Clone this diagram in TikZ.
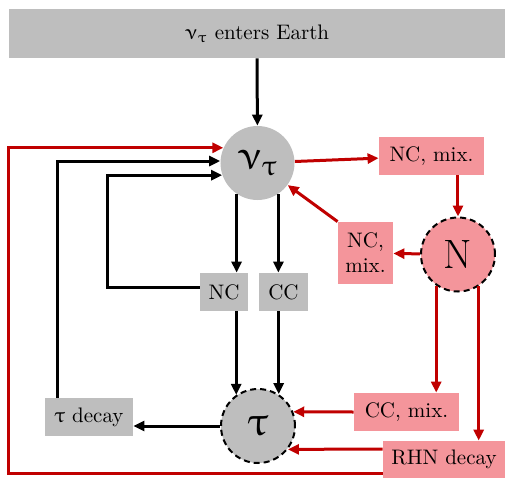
\documentclass[tikz,border=0pt]{standalone}
\usepackage{amsmath}
\usepackage{upgreek}
\usepackage{tikz}
\usetikzlibrary{arrows.meta,positioning,calc}
\usepackage{xcolor}
\definecolor{boxgray}{HTML}{BEBEBE}
\definecolor{mixpink}{HTML}{F4959B}
\definecolor{flowred}{HTML}{C00000}

\begin{document}
\begin{tikzpicture}[
  x=0.5pt,y=-0.5pt,
  font=\fontsize{10.5}{12.5}\selectfont,
  gbox/.style={fill=boxgray,inner sep=0pt,minimum height=19pt,align=center},
  pbox/.style={fill=mixpink,inner sep=0pt,minimum height=19pt,align=center},
  particle/.style={circle,fill=boxgray,minimum size=37pt,inner sep=0pt,font=\fontsize{20.5}{24}\selectfont},
  unstable/.style={particle,draw=black,line width=1pt,dash pattern=on 3pt off 2pt},
  arrow/.style={-{Triangle[length=5.5pt,width=5pt]},line width=1.5pt,black},
  redarrow/.style={arrow,flowred}
]
\useasboundingbox (0,0) rectangle (505,478);
% nodes
\node[gbox,minimum width=248pt,minimum height=24.5pt] (earth) at (257,33.5) {$\upnu_\uptau$ enters Earth};
\node[particle] (nutau) at (257.5,163) {$\upnu_{\uptau}$};
\node[gbox,minimum width=24pt] (nc) at (224,292) {NC};
\node[gbox,minimum width=24.5pt] (cc) at (283.5,292) {CC};
\node[unstable] (tau) at (258,426) {$\uptau$};
\node[gbox,minimum width=44pt] (taudec) at (89,417) {$\uptau$ decay};
\node[pbox,minimum width=52.5pt] (ncmixa) at (431.5,156) {NC, mix.};
\node[pbox,minimum width=27.5pt,minimum height=31pt] (ncmixb) at (365.5,253) {NC,\\mix.};
\node[unstable,fill=mixpink] (heavy) at (458,254.5) {N};
\node[pbox,minimum width=52.5pt] (ccmix) at (406.5,412) {CC, mix.};
\node[pbox,minimum width=61pt,minimum height=18.5pt] (rhn) at (444,459.5) {RHN decay};
% standard model
\draw[arrow] (earth) -- (nutau);
\draw[arrow] (nutau.236) -- (nutau.236 |- nc.north);
\draw[arrow] (nutau.304) -- (nutau.304 |- cc.north);
\draw[arrow] (nc.south -| tau.125) -- (tau.125);
\draw[arrow] (cc.south -| tau.57) -- (tau.57);
\draw[arrow] ([yshift=2.5pt]nc.west) -- ++(-92,0) |- (nutau.199);
\draw[arrow] ([xshift=-15.5pt]taudec.north) |- (nutau.177);
\draw[arrow] (tau.west) -- (tau.west -| taudec.east);
% mixing with N
\draw[redarrow] (nutau) -- (ncmixa);
\draw[redarrow] (ncmixa.south -| heavy.north) -- (heavy.north);
\draw[redarrow] (heavy) -- (ncmixb);
\draw[redarrow] (ncmixb.north west) -- (nutau);
\draw[redarrow] (heavy.235) -- (heavy.235 |- ccmix.north);
\draw[redarrow] (heavy.303) -- (heavy.303 |- rhn.north);
\draw[redarrow] (ccmix.west) -- (tau.22);
\draw[redarrow] ([yshift=5.25pt]rhn.west) -- (tau.-38);
\draw[redarrow] ([yshift=-6.75pt]rhn.west) -- ++(-374,0) |- (nutau.156);
\end{tikzpicture}
\end{document}
